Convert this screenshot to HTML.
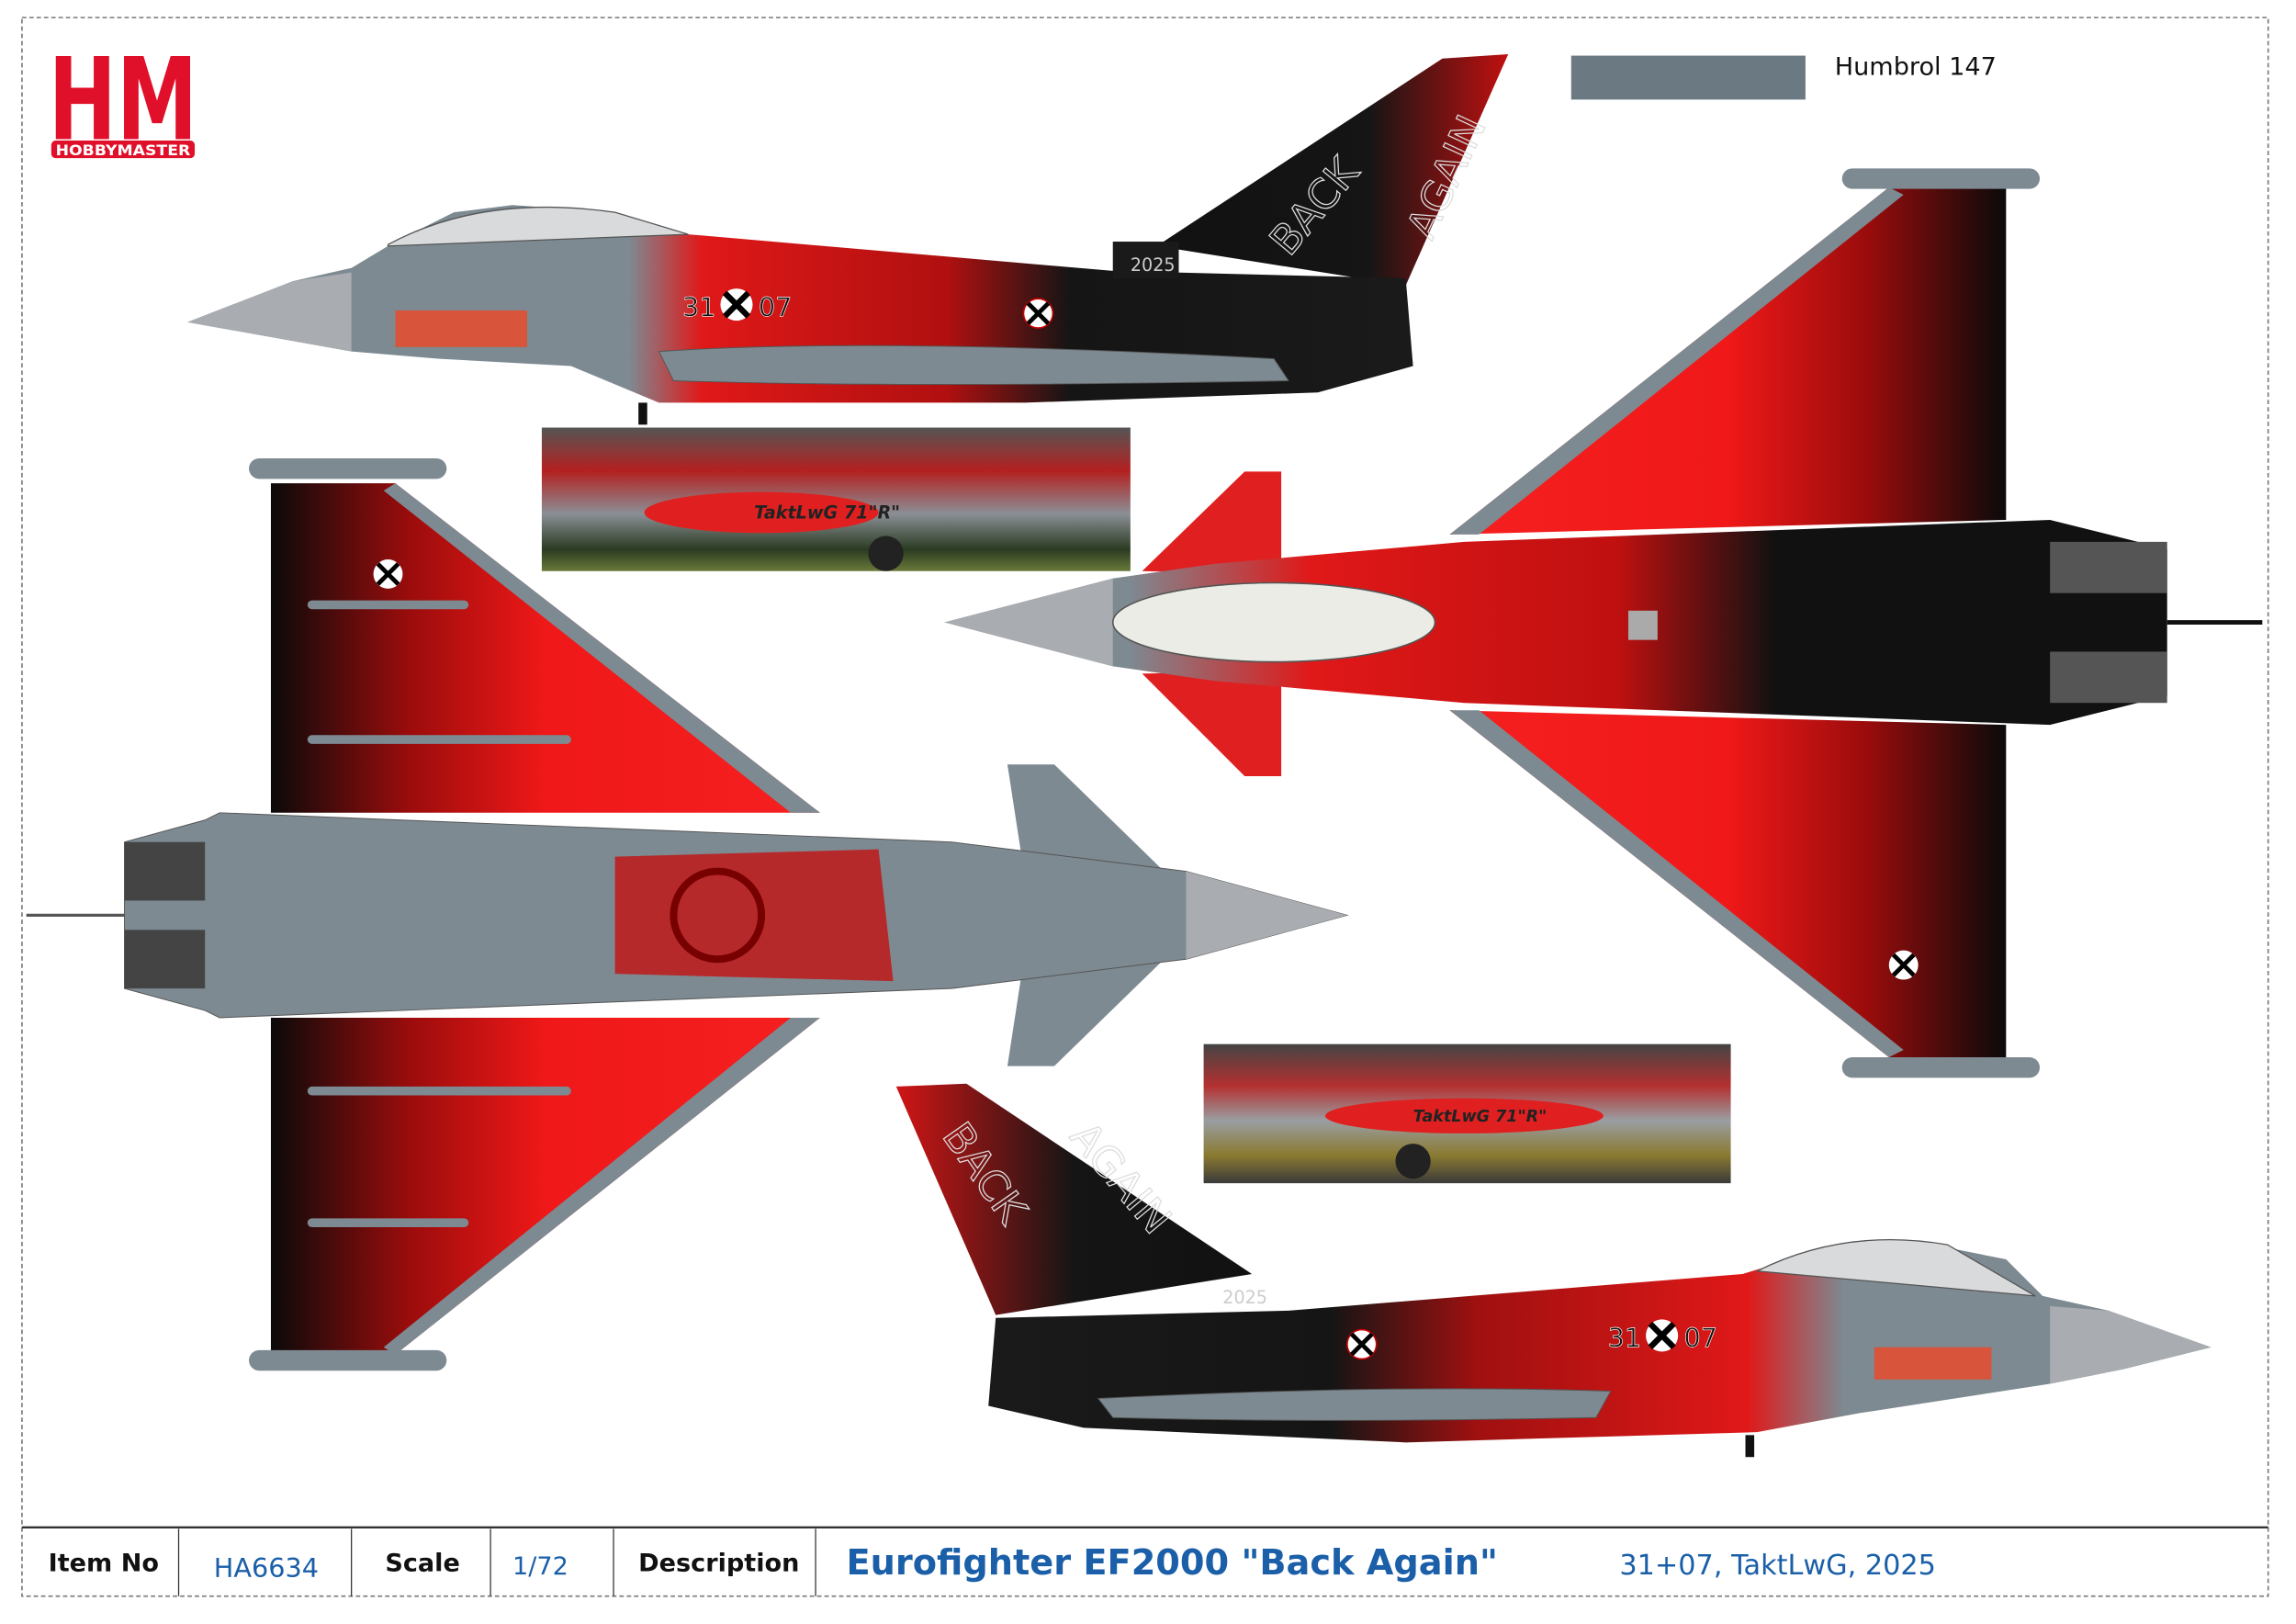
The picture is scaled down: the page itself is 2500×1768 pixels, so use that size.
<!DOCTYPE html>
<html><head><meta charset="utf-8"><style>
html,body{margin:0;padding:0;background:#fff;}
svg{display:block;}
text{font-family:"DejaVu Sans","Liberation Sans",sans-serif;}
</style></head><body>
<svg width="2500" height="1768" viewBox="0 0 1568 1109" preserveAspectRatio="none" xmlns="http://www.w3.org/2000/svg">
<defs>
<linearGradient id="sideL" x1="0" x2="1" y1="0" y2="0">
<stop offset="0" stop-color="#7d8a92"/><stop offset="0.36" stop-color="#7d8a92"/><stop offset="0.42" stop-color="#e01818"/><stop offset="0.62" stop-color="#b01010"/><stop offset="0.72" stop-color="#151515"/><stop offset="1" stop-color="#1a1a1a"/></linearGradient>
<linearGradient id="sideR" x1="1" x2="0" y1="0" y2="0">
<stop offset="0" stop-color="#7d8a92"/><stop offset="0.3" stop-color="#7d8a92"/><stop offset="0.38" stop-color="#e01818"/><stop offset="0.6" stop-color="#a01010"/><stop offset="0.72" stop-color="#151515"/><stop offset="1" stop-color="#1a1a1a"/></linearGradient>
<linearGradient id="wingL" x1="0" x2="1" y1="0" y2="0">
<stop offset="0" stop-color="#0a0a0a"/><stop offset="0.25" stop-color="#9a0c0c"/><stop offset="0.5" stop-color="#f01818"/><stop offset="1" stop-color="#f52020"/></linearGradient>
<linearGradient id="wingR" x1="1" x2="0" y1="0" y2="0">
<stop offset="0" stop-color="#0a0a0a"/><stop offset="0.25" stop-color="#9a0c0c"/><stop offset="0.5" stop-color="#f01818"/><stop offset="1" stop-color="#f52020"/></linearGradient>
<linearGradient id="fusR" x1="0" x2="1" y1="0" y2="0">
<stop offset="0" stop-color="#7d8a92"/><stop offset="0.15" stop-color="#7d8a92"/><stop offset="0.3" stop-color="#e01818"/><stop offset="0.55" stop-color="#c01010"/><stop offset="0.68" stop-color="#111"/><stop offset="1" stop-color="#111"/></linearGradient>
<linearGradient id="tailG" x1="0" x2="1" y1="0" y2="0">
<stop offset="0" stop-color="#111"/><stop offset="0.6" stop-color="#151515"/><stop offset="1" stop-color="#c01010"/></linearGradient>
<linearGradient id="tailG2" x1="1" x2="0" y1="0" y2="0">
<stop offset="0" stop-color="#111"/><stop offset="0.5" stop-color="#151515"/><stop offset="1" stop-color="#d01515"/></linearGradient>
<linearGradient id="photo" x1="0" x2="0" y1="0" y2="1">
<stop offset="0" stop-color="#555"/><stop offset="0.3" stop-color="#b42020"/><stop offset="0.6" stop-color="#8a8f95"/><stop offset="0.85" stop-color="#2b3b22"/><stop offset="1" stop-color="#6a7a3a"/></linearGradient>
<linearGradient id="photo2" x1="0" x2="0" y1="0" y2="1">
<stop offset="0" stop-color="#444"/><stop offset="0.3" stop-color="#b43030"/><stop offset="0.55" stop-color="#9a9ea2"/><stop offset="0.8" stop-color="#8a7a30"/><stop offset="1" stop-color="#3a3a3a"/></linearGradient>
</defs>

<!-- frame -->
<rect x="15" y="12" width="1534" height="1078" fill="none" stroke="#777" stroke-width="1" stroke-dasharray="3,2"/>
<line x1="15" y1="1043" x2="1549" y2="1043" stroke="#333" stroke-width="1.5"/>
<g stroke="#333" stroke-width="0.8">
<line x1="122" y1="1044" x2="122" y2="1090"/><line x1="240" y1="1044" x2="240" y2="1090"/>
<line x1="335" y1="1044" x2="335" y2="1090"/><line x1="419" y1="1044" x2="419" y2="1090"/>
<line x1="557" y1="1044" x2="557" y2="1090"/></g>
<text x="33" y="1073" font-size="17" font-weight="bold" fill="#111">Item No</text>
<text x="146" y="1077" font-size="18" fill="#1a5fa8">HA6634</text>
<text x="263" y="1073" font-size="17" font-weight="bold" fill="#111">Scale</text>
<text x="350" y="1075" font-size="17" fill="#1a5fa8">1/72</text>
<text x="436" y="1073" font-size="17" font-weight="bold" fill="#111">Description</text>
<text x="578" y="1075" font-size="24" font-weight="bold" fill="#1a5fa8">Eurofighter EF2000 "Back Again"</text>
<text x="1106" y="1075" font-size="19" fill="#1a5fa8">31+07, TaktLwG, 2025</text>

<!-- logo -->
<text x="33" y="95" font-size="78" font-weight="bold" fill="#e0102a" textLength="102" lengthAdjust="spacingAndGlyphs" font-family="Liberation Sans">HM</text>
<rect x="35" y="96" width="98" height="12" rx="3" fill="#e0102a"/>
<text x="84" y="106" font-size="10" font-weight="bold" fill="#fff" text-anchor="middle" textLength="92" lengthAdjust="spacingAndGlyphs">HOBBYMASTER</text>

<!-- swatch -->
<rect x="1073" y="38" width="160" height="30" fill="#6b7a82"/>
<text x="1253" y="51" font-size="17" fill="#111">Humbrol 147</text>

<!-- TOP SIDE VIEW -->
<polygon points="985,40 1030,37 960,195 790,168" fill="url(#tailG)"/>
<text x="845" y="160" font-size="28" fill="none" stroke="#ddd" stroke-width="0.8" transform="rotate(-50 880 130)">BACK</text>
<text x="930" y="170" font-size="28" fill="none" stroke="#ddd" stroke-width="0.8" transform="rotate(-65 950 130)">AGAIN</text>
<polygon points="128,220 200,192 240,183 270,165 310,145 350,140 420,145 470,160 760,185 960,190 965,250 900,268 700,275 450,275 390,250 300,245 240,240" fill="url(#sideL)"/>
<path d="M265,167 Q330,132 420,145 L470,160 L265,168 Z" fill="#d8dadc" stroke="#555" stroke-width="0.8"/>
<polygon points="128,220 200,192 240,186 240,240" fill="#a9acb0"/>
<rect x="760" y="165" width="45" height="25" fill="#1a1a1a"/>
<text x="772" y="185" font-size="12" fill="#ccc">2025</text>
<text x="466" y="216" font-size="18" fill="#111" stroke="#fff" stroke-width="0.4">31</text>
<circle cx="503" cy="208" r="11" fill="#fff"/><path d="M495,200 L511,216 M511,200 L495,216" stroke="#000" stroke-width="4"/>
<text x="518" y="216" font-size="18" fill="#111" stroke="#fff" stroke-width="0.4">07</text>
<circle cx="709" cy="214" r="10" fill="#fff" stroke="#c00"/><path d="M702,207 L716,221 M716,207 L702,221" stroke="#000" stroke-width="3"/>
<path d="M450,240 Q600,230 870,245 L880,260 Q620,265 460,260Z" fill="#7d8a92" stroke="#555" stroke-width="0.6"/>
<rect x="436" y="275" width="6" height="15" fill="#111"/>
<rect x="270" y="212" width="90" height="25" fill="#e84a2a" opacity="0.85"/>

<!-- photo 1 -->
<rect x="370" y="292" width="402" height="98" fill="url(#photo)"/>
<ellipse cx="520" cy="350" rx="80" ry="14" fill="#e02020"/>
<text x="515" y="354" font-size="12" font-style="italic" font-weight="bold" fill="#222" font-family="Liberation Serif">TaktLwG 71"R"</text>
<circle cx="605" cy="378" r="12" fill="#222"/>

<!-- LEFT PLAN VIEW -->
<polygon points="185,330 270,330 560,555 185,555" fill="url(#wingL)"/>
<polygon points="185,695 270,695 185,695 560,695 270,925 185,925" fill="url(#wingL)"/>
<polygon points="270,330 560,555 540,555 262,335" fill="#7d8a92"/>
<polygon points="270,925 560,695 540,695 262,920" fill="#7d8a92"/>
<rect x="170" y="313" width="135" height="14" rx="7" fill="#7d8a92"/>
<rect x="170" y="922" width="135" height="14" rx="7" fill="#7d8a92"/>
<polygon points="688,522 720,522 795,595 700,600" fill="#7d8a92"/>
<polygon points="688,728 720,728 795,655 700,650" fill="#7d8a92"/>
<polygon points="85,575 140,560 150,555 650,575 810,595 920,625 810,655 650,675 150,695 140,690 85,675" fill="#7d8a92" stroke="#555" stroke-width="0.6"/>
<polygon points="810,595 920,625 810,655" fill="#a9acb0"/>
<rect x="85" y="575" width="55" height="40" fill="#444"/><rect x="85" y="635" width="55" height="40" fill="#444"/>
<line x1="18" y1="625" x2="85" y2="625" stroke="#555" stroke-width="2"/>
<path d="M420,585 L600,580 L610,670 L420,665Z" fill="#c01818" opacity="0.85"/>
<circle cx="490" cy="625" r="30" fill="none" stroke="#700" stroke-width="5"/>
<circle cx="265" cy="392" r="10" fill="#fff"/><path d="M258,385 L272,399 M272,385 L258,399" stroke="#000" stroke-width="3"/>
<g fill="#7d8a92"><rect x="210" y="410" width="110" height="6" rx="3"/><rect x="210" y="502" width="180" height="6" rx="3"/><rect x="210" y="742" width="180" height="6" rx="3"/><rect x="210" y="832" width="110" height="6" rx="3"/></g>

<!-- RIGHT PLAN VIEW -->
<polygon points="1290,128 1370,128 1370,355 990,365" fill="url(#wingR)"/>
<polygon points="1290,722 1370,722 1370,495 990,485" fill="url(#wingR)"/>
<polygon points="1290,128 990,365 1010,365 1300,133" fill="#7d8a92"/>
<polygon points="1290,722 990,485 1010,485 1300,717" fill="#7d8a92"/>
<rect x="1258" y="115" width="135" height="14" rx="7" fill="#7d8a92"/>
<rect x="1258" y="722" width="135" height="14" rx="7" fill="#7d8a92"/>
<polygon points="875,322 850,322 780,390 875,392" fill="#e02020"/>
<polygon points="875,530 850,530 780,460 875,458" fill="#e02020"/>
<polygon points="645,425 760,395 830,385 1000,370 1400,355 1480,375 1480,475 1400,495 1000,480 830,465 760,455" fill="url(#fusR)"/>
<polygon points="645,425 760,395 760,455" fill="#a9acb0"/>
<ellipse cx="870" cy="425" rx="110" ry="27" fill="#ecece6" stroke="#555"/>
<line x1="1480" y1="425" x2="1545" y2="425" stroke="#111" stroke-width="3"/>
<rect x="1400" y="370" width="80" height="35" fill="#555"/><rect x="1400" y="445" width="80" height="35" fill="#555"/>
<rect x="1112" y="417" width="20" height="20" fill="#aaa"/>
<circle cx="1300" cy="659" r="10" fill="#fff"/><path d="M1293,652 L1307,666 M1307,652 L1293,666" stroke="#000" stroke-width="3"/>

<!-- photo 2 -->
<rect x="822" y="713" width="360" height="95" fill="url(#photo2)"/>
<ellipse cx="1000" cy="762" rx="95" ry="12" fill="#e02020"/>
<text x="965" y="766" font-size="11" font-style="italic" font-weight="bold" fill="#222" font-family="Liberation Serif">TaktLwG 71"R"</text>
<circle cx="965" cy="793" r="12" fill="#222"/>

<!-- BOTTOM SIDE VIEW (nose right) -->
<polygon points="612,742 660,740 855,870 680,898" fill="url(#tailG2)"/>
<text x="630" y="800" font-size="28" fill="none" stroke="#ddd" stroke-width="0.8" transform="rotate(55 660 800)">BACK</text>
<text x="700" y="800" font-size="28" fill="none" stroke="#ddd" stroke-width="0.8" transform="rotate(50 740 820)">AGAIN</text>
<polygon points="1510,920 1440,895 1395,885 1370,860 1310,848 1250,852 1190,870 880,895 680,900 675,960 740,975 960,985 1200,978 1270,965 1400,945 1450,935" fill="url(#sideR)"/>
<path d="M1200,868 Q1260,838 1330,850 L1390,885 Z" fill="#d8dadc" stroke="#555" stroke-width="0.8"/>
<polygon points="1510,920 1440,895 1400,892 1400,945 1450,935" fill="#a9acb0"/>
<text x="1098" y="920" font-size="18" fill="#111" stroke="#fff" stroke-width="0.4">31</text>
<circle cx="1135" cy="912" r="11" fill="#fff"/><path d="M1127,904 L1143,920 M1143,904 L1127,920" stroke="#000" stroke-width="4"/>
<text x="1150" y="920" font-size="18" fill="#111" stroke="#fff" stroke-width="0.4">07</text>
<circle cx="930" cy="918" r="10" fill="#fff" stroke="#c00"/><path d="M923,911 L937,925 M937,911 L923,925" stroke="#000" stroke-width="3"/>
<text x="835" y="890" font-size="12" fill="#ccc">2025</text>
<path d="M750,955 Q950,945 1100,950 L1090,968 Q900,972 760,968Z" fill="#7d8a92" stroke="#555" stroke-width="0.6"/>
<rect x="1192" y="980" width="6" height="15" fill="#111"/>
<rect x="1280" y="920" width="80" height="22" fill="#e84a2a" opacity="0.85"/>
</svg>
</body></html>
